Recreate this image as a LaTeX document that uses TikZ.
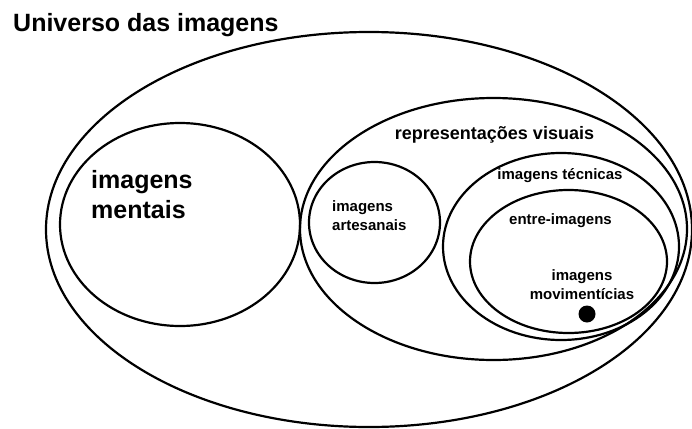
\documentclass[tikz,border=0pt]{standalone}
\usepackage{fontspec}
\setmainfont{Liberation Sans}
\usetikzlibrary{shapes.geometric}

\begin{document}
\begin{tikzpicture}[
  x=1pt, y=-1pt,
  set/.style={draw, ellipse, line width=2.2pt, inner sep=0pt},
  lbl/.style={font=\bfseries\fontsize{15}{19}\selectfont, align=left, inner sep=0pt},
  biglbl/.style={font=\bfseries\fontsize{25}{30}\selectfont, align=left, inner sep=0pt}
]
\useasboundingbox (0,0) rectangle (692,428);

\node[biglbl, anchor=base west] (title) at (13,32) {Universo das imagens};

\node[set, minimum width=646pt, minimum height=395pt] (universo) at (369,229.5) {};
\node[set, minimum width=240pt, minimum height=203pt] (mentais) at (180,224.5) {};
\node[set, minimum width=387pt, minimum height=262pt] (visuais) at (493.5,229) {};
\node[set, minimum width=131pt, minimum height=121pt] (artesanais) at (374.5,222.5) {};
\node[set, minimum width=236pt, minimum height=187pt] (tecnicas) at (561,246.5) {};
\node[set, minimum width=197pt, minimum height=143pt] (entre) at (568.5,261.5) {};
\node[circle, fill, minimum size=17pt, inner sep=0pt] (ponto) at (587,314) {};

\node[biglbl, anchor=west] (mentaislbl) at (91,195) {imagens\\mentais};
\node[lbl, font=\bfseries\fontsize{18}{22}\selectfont] (visuaislbl) at (494.5,135) {representações visuais};
\node[lbl, anchor=west] (artesanaislbl) at (332,215.5) {imagens\\artesanais};
\node[lbl] (tecnicaslbl) at (560,176) {imagens técnicas};
\node[lbl] (entrelbl) at (560.5,221) {entre-imagens};
\node[lbl, align=center] (movlbl) at (582,284.5) {imagens\\movimentícias};

\end{tikzpicture}
\end{document}
